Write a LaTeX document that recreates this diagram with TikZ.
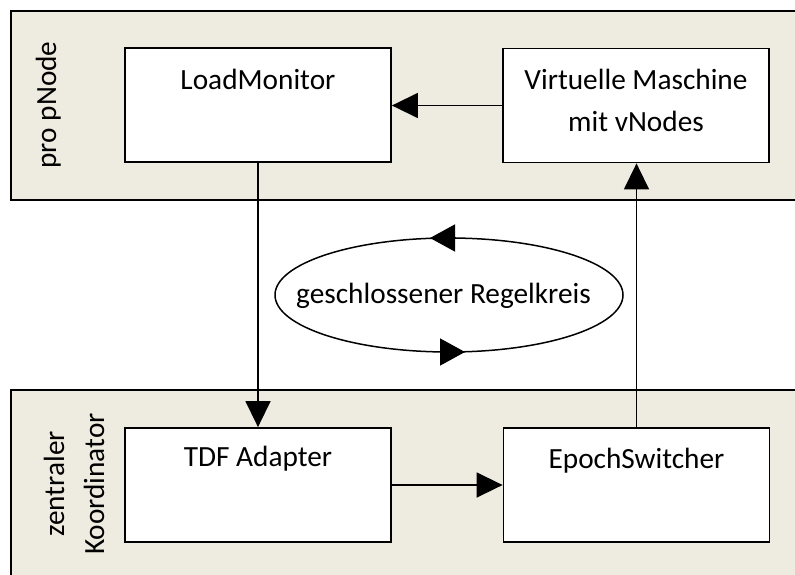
\documentclass[tikz,border=0pt]{standalone}
\usepackage{fontspec}
\setmainfont{Carlito}
\usetikzlibrary{arrows.meta,calc}
\definecolor{panelfill}{HTML}{EEECE1}
\definecolor{ink}{HTML}{000000}

\tikzset{
  panel/.style={fill=panelfill, draw=ink, line width=1.8pt},
  unit/.style={draw=ink, fill=white, line width=1.8pt, minimum width=266pt,
    minimum height=114pt, inner sep=0pt},
  flow/.style={draw=ink, line width=1.5pt, -{Triangle[length=26pt,width=25pt]}},
  loophead/.style={draw=ink, line width=1.5pt, -{Triangle[length=25pt,width=27pt]}},
  sidetext/.style={rotate=90, align=center, inner sep=0pt},
}

\begin{document}
\begin{tikzpicture}[x=1pt, y=-1pt,
  every node/.style={font=\fontsize{29.3}{42}\selectfont, text=ink}]
  \useasboundingbox (0,0) rectangle (795,575);
  \begin{scope}
    \clip (0,0) rectangle (795,575);
    % the two layers: per physical node and central coordinator
    \draw[panel] (11,11) rectangle (815,200);
    \draw[panel] (11,390) rectangle (815,595);
  \end{scope}

  \node[sidetext, anchor=base] (pnode) at (56,105) {pro pNode};
  \node[sidetext, anchor=center, font=\fontsize{29.3}{40}\selectfont] (koord) at (74,484) {zentraler\\Koordinator};

  % components
  \node[unit, label={[anchor=base, yshift=-42pt, inner sep=0pt]north:LoadMonitor}] (lm) at (258,105) {};
  \node[unit, label={[anchor=north, yshift=-21pt, inner sep=0pt, align=center]north:Virtuelle Maschine\\mit vNodes}] (vm) at (636,105.5) {};
  \node[unit, label={[anchor=base, yshift=-39.5pt, inner sep=0pt]north:TDF Adapter}] (tdf) at (258,485) {};
  \node[unit, label={[anchor=base, yshift=-41pt, inner sep=0pt]north:EpochSwitcher}] (es) at (636.5,485) {};

  % control flow between the components
  \draw[flow] (vm.west) -- (vm.west -| lm.east);
  \draw[flow] (lm.south) -- (lm.south |- tdf.north);
  \draw[flow] (tdf.east) -- (tdf.east -| es.west);
  \draw[flow] (es.north) -- (es.north |- vm.south);

  % closed control loop
  \coordinate (c) at (449,295);
  \draw[draw=ink, line width=1.5pt] (c) ellipse [x radius=174, y radius=57];
  \node[anchor=base, inner sep=0pt] (loop) at (443.5,303) {geschlossener Regelkreis};
  \draw[loophead] ($(c)+(6,-57)$) -- ($(c)+(-19,-57)$);
  \draw[loophead] ($(c)+(-9,57)$) -- ($(c)+(16,57)$);
\end{tikzpicture}
\end{document}
